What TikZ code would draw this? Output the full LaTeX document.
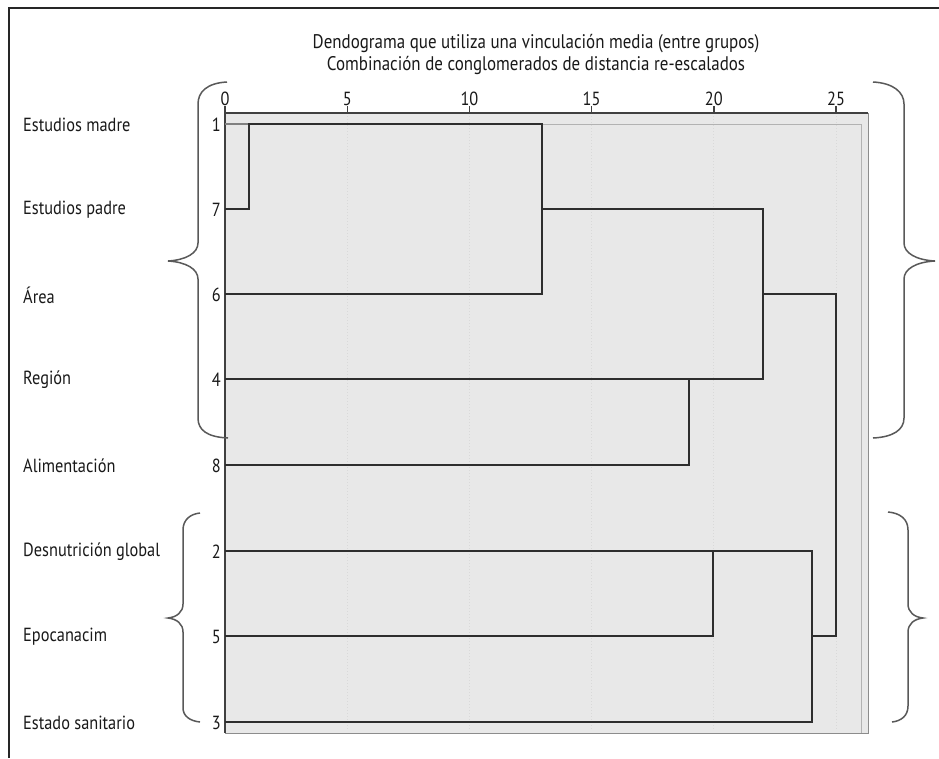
\documentclass[tikz,border=0pt]{standalone}
\usepackage{fontspec}
\setmainfont[FakeStretch=0.86]{PT Sans}
\begin{document}
\begin{tikzpicture}[x=1pt,y=-1pt,
  txt/.style={inner sep=0pt,font=\fontsize{19}{22}\selectfont,text=black!90},
  lab/.style={txt,anchor=west},
  num/.style={txt,anchor=east},
  tick/.style={txt,anchor=south},
  dline/.style={draw=black!82,line width=1.8pt},
  brace/.style={draw=black!65,line width=1.5pt},
  grid/.style={draw=white!85!black,line width=1pt,dotted}]
\useasboundingbox (0,0) rectangle (939,758);
\fill[white] (0,0) rectangle (939,758);
% outer frame
\draw[black!85,line width=1.8pt] (9,758) -- (9,8) -- (939,8);
% title
\node[txt,align=center,font=\fontsize{19.7}{22}\selectfont] (title) at (536,54)
  {Dendograma que utiliza una vinculación media (entre grupos)\\Combinación de conglomerados de distancia re-escalados};
% plot box
\fill[black!9] (225,113) rectangle (868,733);
\draw[black!45,line width=1pt] (868,113) -- (868,733) -- (225,733);
\draw[black!30,line width=0.8pt] (225,124) -- (861,124) -- (861,733);
\foreach \v in {5,10,15,20,25}
  \draw[grid] ({225+24.44*\v},116) -- ({225+24.44*\v},730);
\draw[black!75,line width=1.5pt] (225,113) -- (868,113);
\draw[black!75,line width=1.5pt] (225,113) -- (225,733);
% ticks
\foreach \v in {0,5,10,15,20,25}{
  \draw[black!75,line width=1.4pt] ({225+24.44*\v},106) -- ({225+24.44*\v},113);
  \node[tick] (t\v) at ({225+24.44*\v},106) {\v};
}
% leaves
\foreach \n/\y/\t in {1/124/Estudios madre,7/209/Estudios padre,6/294/Área,4/379/Región,8/465/Alimentación,2/551/Desnutrición global,5/636/Epocanacim,3/722/Estado sanitario}{
  \node[lab] (l\n) at (23,\y+1) {\t};
  \node[num] (n\n) at (221,\y+1) {\n};
  \coordinate (r\n) at (225,\y);
}
% join points
\coordinate (a1) at (249,124);  \coordinate (a7) at (249,209);
\coordinate (b1) at (542,124);  \coordinate (b6) at (542,294);  \coordinate (bm) at (542,209);
\coordinate (c1) at (763,209);  \coordinate (c4) at (763,379);  \coordinate (cm) at (763,294);
\coordinate (d4) at (689,379);  \coordinate (d8) at (689,465);
\coordinate (e2) at (713,551);  \coordinate (e5) at (713,636);
\coordinate (f2) at (812,551);  \coordinate (f3) at (812,722);  \coordinate (fm) at (812,636);
\coordinate (g1) at (836,294);  \coordinate (g2) at (836,636);
% dendrogram
\draw[black!50,line width=1.4pt] (r1) -- (a1);
\draw[dline] (r7) -- (a7) -- (a1) -- (b1) -- (b6) -- (r6);
\draw[dline] (bm) -- (c1) -- (c4) -- (r4);
\draw[dline] (d4) -- (d8) -- (r8);
\draw[dline] (cm) -- (g1) -- (g2) -- (fm);
\draw[dline] (r2) -- (f2) -- (f3) -- (r3);
\draw[dline] (e2) -- (e5) -- (r5);
% braces
\draw[brace] (227,82) .. controls (207,83) and (198,92) .. (198,104) -- (198,243)
  .. controls (198,253) and (186,260) .. (168,261) .. controls (186,262) and (198,269) .. (198,279)
  -- (198,418) .. controls (198,430) and (207,437) .. (228,438);
\draw[brace] (200,513) .. controls (190,514) and (183,520) .. (183,530) -- (183,604)
  .. controls (183,612) and (177,617) .. (168,618) .. controls (177,619) and (183,624) .. (183,632)
  -- (183,708) .. controls (183,716) and (190,721) .. (200,722);
\draw[brace] (873,82) .. controls (893,83) and (904,92) .. (904,104) -- (904,243)
  .. controls (904,253) and (916,260) .. (935,261) .. controls (916,262) and (904,269) .. (904,279)
  -- (904,418) .. controls (904,430) and (893,437) .. (873,438);
\draw[brace] (888,512) .. controls (900,513) and (908,519) .. (908,530) -- (908,604)
  .. controls (908,612) and (914,617) .. (923,618) .. controls (914,619) and (908,624) .. (908,632)
  -- (908,706) .. controls (908,716) and (901,721) .. (892,722);
\end{tikzpicture}
\end{document}
